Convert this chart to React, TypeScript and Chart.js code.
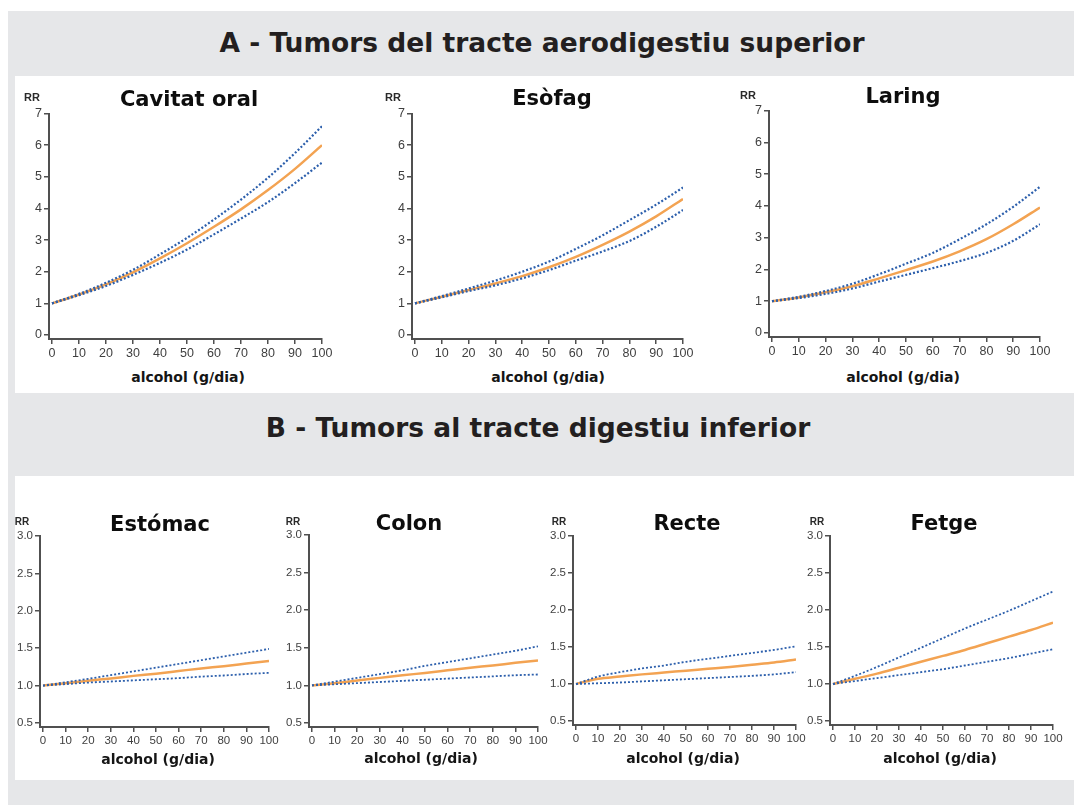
import React, { useEffect, useRef } from "react";
import { Chart, registerables } from "chart.js";

Chart.register(...registerables);

// ---------- data ----------
const alcohol = [0, 10, 20, 30, 40, 50, 60, 70, 80, 90, 100];
const xTicks = [0, 10, 20, 30, 40, 50, 60, 70, 80, 90, 100];
const yTicksTop = [0, 1, 2, 3, 4, 5, 6, 7];
const yTicksBottom = [0.5, 1.0, 1.5, 2.0, 2.5, 3.0];

const panelATitle = "A - Tumors del tracte aerodigestiu superior";
const panelBTitle = "B - Tumors al tracte digestiu inferior";
const yLabel = "RR";
const xLabel = "alcohol (g/dia)";
const chartTitles = ["Cavitat oral", "Esòfag", "Laring", "Estómac", "Colon", "Recte", "Fetge"];

const cavitatCentral = [1, 1.28, 1.6, 1.98, 2.42, 2.9, 3.42, 3.97, 4.58, 5.25, 6.0];
const cavitatUpper = [1, 1.3, 1.65, 2.06, 2.55, 3.07, 3.65, 4.28, 4.97, 5.75, 6.6];
const cavitatLower = [1, 1.26, 1.55, 1.9, 2.28, 2.7, 3.18, 3.68, 4.2, 4.8, 5.45];

const esofagCentral = [1, 1.21, 1.42, 1.63, 1.86, 2.14, 2.47, 2.85, 3.27, 3.75, 4.3];
const esofagUpper = [1, 1.23, 1.47, 1.72, 2.0, 2.32, 2.72, 3.15, 3.63, 4.12, 4.66];
const esofagLower = [1, 1.19, 1.39, 1.57, 1.79, 2.05, 2.35, 2.64, 2.97, 3.42, 3.95];

const laringCentral = [1, 1.12, 1.28, 1.47, 1.72, 1.98, 2.25, 2.57, 2.95, 3.42, 3.95];
const laringUpper = [1, 1.14, 1.32, 1.55, 1.85, 2.18, 2.52, 2.95, 3.42, 3.97, 4.6];
const laringLower = [1, 1.1, 1.23, 1.4, 1.62, 1.83, 2.04, 2.26, 2.52, 2.9, 3.42];

const estomacCentral = [1, 1.03, 1.065, 1.095, 1.13, 1.16, 1.195, 1.23, 1.26, 1.295, 1.33];
const estomacUpper = [1, 1.045, 1.09, 1.14, 1.19, 1.24, 1.29, 1.34, 1.39, 1.44, 1.49];
const estomacLower = [1, 1.02, 1.04, 1.055, 1.07, 1.085, 1.1, 1.12, 1.135, 1.155, 1.17];

const colonCentral = [1, 1.03, 1.065, 1.1, 1.135, 1.165, 1.2, 1.235, 1.265, 1.3, 1.33];
const colonUpper = [1, 1.05, 1.1, 1.15, 1.2, 1.26, 1.31, 1.36, 1.41, 1.46, 1.52];
const colonLower = [1, 1.015, 1.03, 1.045, 1.06, 1.075, 1.09, 1.105, 1.12, 1.135, 1.145];

const recteCentral = [1, 1.07, 1.1, 1.13, 1.155, 1.18, 1.205, 1.23, 1.26, 1.29, 1.33];
const recteUpper = [1, 1.1, 1.16, 1.21, 1.25, 1.3, 1.34, 1.38, 1.42, 1.46, 1.51];
const recteLower = [1, 1.01, 1.02, 1.035, 1.05, 1.065, 1.08, 1.095, 1.11, 1.13, 1.16];

const fetgeCentral = [1, 1.07, 1.14, 1.22, 1.3, 1.38, 1.46, 1.55, 1.64, 1.73, 1.83];
const fetgeUpper = [1, 1.11, 1.23, 1.36, 1.49, 1.62, 1.75, 1.87, 1.99, 2.12, 2.25];
const fetgeLower = [1, 1.04, 1.08, 1.12, 1.16, 1.2, 1.25, 1.3, 1.35, 1.41, 1.47];

// ---------- styles ----------
const ORANGE = "#f3a352";
const BLUE = "#2c5fac";
const AXIS = "#505050";
const TICK_TEXT = "#3f3f3f";
const BG_GRAY = "#e6e7e9";

type Box = { left: number; right: number; top: number; bottom: number };
type Spec = {
  title: string;
  central: number[];
  upper: number[];
  lower: number[];
  top: boolean;
  box: Box;
  titlePos: [number, number];
  rrPos: [number, number];
  xTitlePos: [number, number];
};

const PAD_L = 38;
const PAD_R = 16;
const PAD_T = 9;
const AXIS_H = 26;

function RRChart({ spec }: { spec: Spec }) {
  const ref = useRef<HTMLCanvasElement>(null);
  const { box } = spec;
  const width = box.right - box.left + PAD_L + PAD_R;
  const height = box.bottom - box.top + PAD_T + AXIS_H;

  useEffect(() => {
    if (!ref.current) return;
    const yTicks = spec.top ? yTicksTop : yTicksBottom;
    const yLow = yTicks[0];
    const yHigh = yTicks[yTicks.length - 1];
    const gapX = 3;
    const gapY = 4;
    const pxX = (box.right - box.left - gapX) / 100;
    const pxY = (box.bottom - box.top - gapY) / (yHigh - yLow);
    const xMin = -gapX / pxX;
    const yMin = yLow - gapY / pxY;
    const tickSize = spec.top ? 12.5 : 11.5;
    const dotW = spec.top ? 2.2 : 1.8;
    const mk = (arr: number[]) => arr.map((y, i) => ({ x: alcohol[i], y }));

    const chart = new Chart(ref.current, {
      type: "line",
      data: {
        datasets: [
          {
            data: mk(spec.upper),
            borderColor: BLUE,
            borderWidth: dotW,
            borderDash: [2, 2],
            pointRadius: 0,
            cubicInterpolationMode: "monotone",
          },
          {
            data: mk(spec.lower),
            borderColor: BLUE,
            borderWidth: dotW,
            borderDash: [2, 2],
            pointRadius: 0,
            cubicInterpolationMode: "monotone",
          },
          {
            data: mk(spec.central),
            borderColor: ORANGE,
            borderWidth: 2.5,
            pointRadius: 0,
            cubicInterpolationMode: "monotone",
          },
        ],
      },
      options: {
        responsive: false,
        animation: false,
        devicePixelRatio: 1,
        layout: { padding: { left: 0, right: PAD_R, top: PAD_T, bottom: 0 } },
        plugins: {
          legend: { display: false },
          tooltip: { enabled: false },
          title: { display: false },
        },
        scales: {
          x: {
            type: "linear",
            min: xMin,
            max: 100,
            afterBuildTicks: (s: any) => {
              s.ticks = xTicks.map((v) => ({ value: v }));
            },
            afterFit: (s: any) => {
              s.height = AXIS_H;
            },
            ticks: {
              autoSkip: false,
              maxRotation: 0,
              minRotation: 0,
              padding: 2,
              color: TICK_TEXT,
              font: { family: "Liberation Sans", size: tickSize },
              callback: (v: any) => String(v),
            },
            grid: {
              display: true,
              drawOnChartArea: false,
              drawTicks: true,
              tickLength: 5,
              color: AXIS,
              lineWidth: 1.5,
            },
            border: { display: true, color: AXIS, width: 2 },
          },
          y: {
            type: "linear",
            min: yMin,
            max: yHigh,
            afterBuildTicks: (s: any) => {
              s.ticks = yTicks.map((v) => ({ value: v }));
            },
            afterFit: (s: any) => {
              s.width = PAD_L;
            },
            ticks: {
              padding: 2,
              color: TICK_TEXT,
              font: { family: "Liberation Sans", size: tickSize },
              callback: (v: any) => (spec.top ? String(v) : Number(v).toFixed(1)),
            },
            grid: {
              display: true,
              drawOnChartArea: false,
              drawTicks: true,
              tickLength: 5,
              color: AXIS,
              lineWidth: 1.5,
            },
            border: { display: true, color: AXIS, width: 2 },
          },
        },
      },
    } as any);
    return () => chart.destroy();
  }, [spec]);

  return (
    <canvas
      ref={ref}
      width={width}
      height={height}
      style={{
        position: "absolute",
        left: box.left - PAD_L,
        top: box.top - PAD_T,
        width,
        height,
      }}
    />
  );
}

function Label({
  x,
  y,
  text,
  size,
  family = "DejaVu Sans",
  weight = 700,
  color = "#1a1a1a",
}: {
  x: number;
  y: number;
  text: string;
  size: number;
  family?: string;
  weight?: number;
  color?: string;
}) {
  return (
    <div
      style={{
        position: "absolute",
        left: x,
        top: y,
        transform: "translate(-50%, -50%)",
        whiteSpace: "nowrap",
        fontFamily: family,
        fontWeight: weight,
        fontSize: size,
        lineHeight: 1,
        color,
      }}
    >
      {text}
    </div>
  );
}

const specs: Spec[] = [
  {
    title: chartTitles[0],
    central: cavitatCentral,
    upper: cavitatUpper,
    lower: cavitatLower,
    top: true,
    box: { left: 49, right: 322, top: 113, bottom: 339 },
    titlePos: [189, 99],
    rrPos: [32, 97],
    xTitlePos: [188, 377],
  },
  {
    title: chartTitles[1],
    central: esofagCentral,
    upper: esofagUpper,
    lower: esofagLower,
    top: true,
    box: { left: 412, right: 683, top: 113, bottom: 339 },
    titlePos: [552, 98],
    rrPos: [393, 97],
    xTitlePos: [548, 377],
  },
  {
    title: chartTitles[2],
    central: laringCentral,
    upper: laringUpper,
    lower: laringLower,
    top: true,
    box: { left: 769, right: 1040, top: 110, bottom: 337 },
    titlePos: [903, 96],
    rrPos: [748, 95],
    xTitlePos: [903, 377],
  },
  {
    title: chartTitles[3],
    central: estomacCentral,
    upper: estomacUpper,
    lower: estomacLower,
    top: false,
    box: { left: 40, right: 269, top: 536, bottom: 727 },
    titlePos: [160, 524],
    rrPos: [22, 522],
    xTitlePos: [158, 759],
  },
  {
    title: chartTitles[4],
    central: colonCentral,
    upper: colonUpper,
    lower: colonLower,
    top: false,
    box: { left: 309, right: 538, top: 535, bottom: 727 },
    titlePos: [409, 523],
    rrPos: [293, 522],
    xTitlePos: [421, 758],
  },
  {
    title: chartTitles[5],
    central: recteCentral,
    upper: recteUpper,
    lower: recteLower,
    top: false,
    box: { left: 573, right: 796, top: 536, bottom: 725 },
    titlePos: [687, 523],
    rrPos: [559, 522],
    xTitlePos: [683, 758],
  },
  {
    title: chartTitles[6],
    central: fetgeCentral,
    upper: fetgeUpper,
    lower: fetgeLower,
    top: false,
    box: { left: 830, right: 1053, top: 536, bottom: 725 },
    titlePos: [944, 523],
    rrPos: [817, 522],
    xTitlePos: [940, 758],
  },
];

export default function App() {
  return (
    <div
      style={{
        position: "absolute",
        left: 0,
        top: 0,
        width: 1074,
        height: 805,
        overflow: "hidden",
        background: "#ffffff",
      }}
    >
      <div style={{ position: "absolute", left: 8, top: 11, width: 1066, height: 794, background: BG_GRAY }} />
      <div style={{ position: "absolute", left: 15, top: 76, width: 1059, height: 317, background: "#ffffff" }} />
      <div style={{ position: "absolute", left: 15, top: 476, width: 1059, height: 304, background: "#ffffff" }} />
      <Label x={542} y={43} text={panelATitle} size={26.5} color="#231f20" />
      <Label x={538} y={428} text={panelBTitle} size={26.5} color="#231f20" />
      {specs.map((s, i) => (
        <React.Fragment key={i}>
          <RRChart spec={s} />
          <Label x={s.titlePos[0]} y={s.titlePos[1]} text={s.title} size={21} color="#0d0d0d" />
          <Label
            x={s.rrPos[0]}
            y={s.rrPos[1]}
            text={yLabel}
            size={s.top ? 11 : 10}
            family="Liberation Sans"
            color="#2a2a2a"
          />
          <Label x={s.xTitlePos[0]} y={s.xTitlePos[1]} text={xLabel} size={14} color="#151515" />
        </React.Fragment>
      ))}
    </div>
  );
}
